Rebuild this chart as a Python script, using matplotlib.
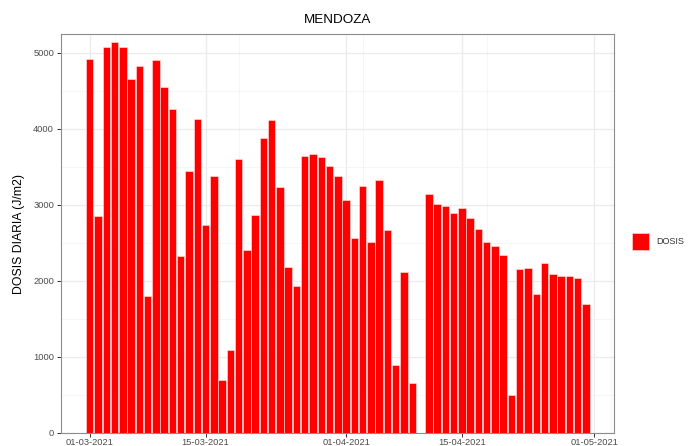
import numpy as np
import pandas as pd
import matplotlib
matplotlib.use("Agg")
import matplotlib.pyplot as plt
import matplotlib.dates as mdates
from matplotlib.patches import Rectangle

# datos diarios de Mendoza (marzo - abril 2021)
fechas = pd.date_range("2021-03-01", "2021-04-30", freq="D")
dosis = [4920, 2860, 5075, 5140, 5083, 4662, 4833, 1807, 4908, 4553,
         4259, 2329, 3447, 4127, 2741, 3386, 697, 1088, 3609, 2404,
         2864, 3882, 4118, 3241, 2180, 1930, 3640, 3667, 3632, 3509,
         3382, 3070, 2561, 3250, 2509, 3325, 2671, 890, 2123, 658,
         np.nan, 3149, 3018, 2982, 2890, 2965, 2825, 2680, 2513, 2465,
         2342, 496, 2154, 2175, 1825, 2233, 2096, 2070, 2066, 2044,
         1697]
ticks_x = ["2021-03-01", "2021-03-15", "2021-04-01", "2021-04-15", "2021-05-01"]
ticks_x_menor = ["2021-03-04", "2021-03-19", "2021-04-03", "2021-04-18", "2021-05-03"]
ticks_y = [0, 1000, 2000, 3000, 4000, 5000]
ticks_y_menor = [500, 1500, 2500, 3500, 4500]

plt.rcParams['font.family'] = ['Liberation Sans', 'DejaVu Sans']

W, H = 692, 446
fig = plt.figure(figsize=(W / 100, H / 100), dpi=100)
ax = fig.add_axes([61 / W, (H - 433) / H, (614 - 61) / W, (433 - 34) / H])

x = mdates.date2num(fechas)
ax.bar(x, dosis, width=0.9, color='#FF0000', edgecolor='#ffe5e5',
       linewidth=0.4, zorder=3)

x0 = mdates.date2num(pd.Timestamp("2021-03-01"))
ax.set_xlim(x0 - 3.48, x0 + 63.4)
ax.set_ylim(0, 5250)

# rejilla estilo theme_bw
xt = mdates.date2num(pd.to_datetime(ticks_x))
xm = mdates.date2num(pd.to_datetime(ticks_x_menor))
ax.set_xticks(xt)
ax.set_xticklabels([d.strftime('%d-%m-%Y') for d in pd.to_datetime(ticks_x)])
ax.set_xticks(xm, minor=True)
ax.set_yticks(ticks_y)
ax.set_yticks(ticks_y_menor, minor=True)
ax.grid(which='major', color='#EBEBEB', linewidth=0.9, zorder=0)
ax.grid(which='minor', color='#F4F4F4', linewidth=0.6, zorder=0)
ax.set_axisbelow(True)

ax.tick_params(which='major', length=3, width=0.7, color='#333333',
               labelsize=6.7, labelcolor='#4D4D4D', pad=2)
ax.tick_params(axis='x', which='major', pad=0.8)
ax.tick_params(which='minor', length=0)
for s in ax.spines.values():
    s.set_color('#8c8c8c')
    s.set_linewidth(0.8)

ax.set_title('MENDOZA', fontsize=9.7, pad=8)
ax.set_ylabel('DOSIS DIARIA (J/m2)', fontsize=8.8, labelpad=6)

# leyenda a mano: cuadrado rojo + texto
fig.patches.append(Rectangle((632 / W, 1 - 250 / H), 17 / W, 17 / H,
                             transform=fig.transFigure, facecolor='#FF0000',
                             edgecolor='#ffe5e5', linewidth=0.4))
fig.text(656 / W, 1 - 241.5 / H, 'DOSIS', fontsize=6.5, color='#333333',
         ha='left', va='center')

fig.savefig('out.png', dpi=100)
